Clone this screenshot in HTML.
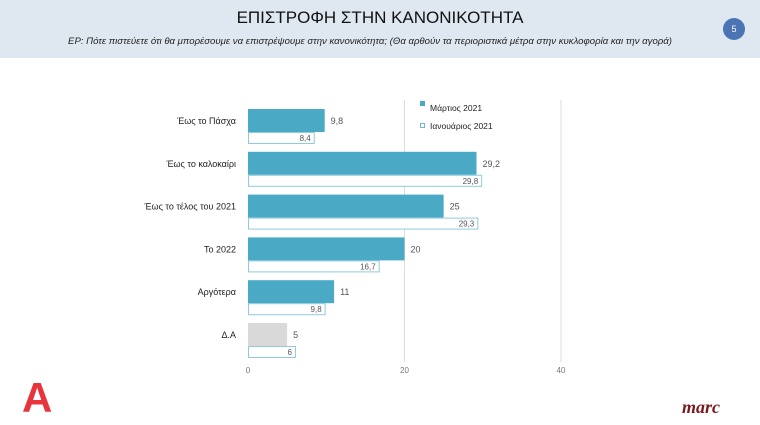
<!DOCTYPE html>
<html><head><meta charset="utf-8"><style>
body{margin:0;width:760px;height:425px;background:#fff;overflow:hidden;font-family:"Liberation Sans","DejaVu Sans",sans-serif;position:relative}
#hdr{position:absolute;left:0;top:0;width:760px;height:58px;background:#dfe7f1}
#title{position:absolute;top:8px;width:760px;text-align:center;font-size:17px;color:#111}
#sub{position:absolute;top:36px;width:760px;left:-10px;text-align:center;font-size:9.6px;font-style:italic;color:#222}
#badge{position:absolute;left:723px;top:18px;width:22px;height:22px;border-radius:50%;background:#4a74b4;color:#fff;font-size:9px;text-align:center;line-height:22px}
</style></head><body>
<div id="hdr">
<div id="title">ΕΠΙΣΤΡΟΦΗ ΣΤΗΝ ΚΑΝΟΝΙΚΟΤΗΤΑ</div>
<div id="sub">ΕΡ:  Πότε πιστεύετε ότι θα μπορέσουμε να επιστρέψουμε στην κανονικότητα; (Θα αρθούν τα περιοριστικά μέτρα στην κυκλοφορία και την αγορά)</div>
<div id="badge">5</div>
</div>
<svg id="chart" width="760" height="425" style="position:absolute;left:0;top:0"></svg>
<script>
const categories=["Έως το Πάσχα","Έως το καλοκαίρι","Έως το τέλος του 2021","Το 2022","Αργότερα","Δ.Α"];
const march=[9.8,29.2,25,20,11,5];
const jan=[8.4,29.8,29.3,16.7,9.8,6];
const ticks=[0,20,40];
const fmt=v=>String(v).replace('.',',');
const x0=248,scale=(561-248)/40;
const xs=v=>x0+v*scale;
const rowTop=i=>109+i*42.8;
const ns="http://www.w3.org/2000/svg";
const svg=document.getElementById('chart');
function mk(t,a){const e=document.createElementNS(ns,t);for(const k in a)e.setAttribute(k,a[k]);svg.appendChild(e);return e;}
ticks.forEach(t=>{
 if(t>0){const l=mk('line',{x1:xs(t),x2:xs(t),y1:100,y2:362,stroke:'#dcdcdc','stroke-width':1});
 
 }
 const tx=mk('text',{x:xs(t),y:373,'font-size':8,fill:'#777','text-anchor':'middle'});tx.textContent=t;
 
 
});
categories.forEach((c,i)=>{
 const y=rowTop(i);
 const lab=mk('text',{x:236,y:y+15,'font-size':9,fill:'#222','text-anchor':'end'});lab.textContent=c;
 
 
 const b=mk('rect',{x:x0,y:y,width:xs(march[i])-x0,height:23,fill:i==5?'#d9d9d9':'#4aaac5'});
 
 
 const v=mk('text',{x:xs(march[i])+6,y:y+15,'font-size':9,fill:'#555'});v.textContent=fmt(march[i]);
 
 
 const b2=mk('rect',{x:x0+0.5,y:y+23.5,width:xs(jan[i])-x0,height:11,fill:'#fff',stroke:'#8fcbdc','stroke-width':1});
 
 
 const v2=mk('text',{x:xs(jan[i])-3,y:y+32,'font-size':8,fill:'#555','text-anchor':'end'});v2.textContent=fmt(jan[i]);
 
 
});
const l1=mk('rect',{x:420,y:101,width:5,height:5,fill:'#4aaac5'});


const t1=mk('text',{x:430,y:111,'font-size':8.5,fill:'#222'});t1.textContent='Μάρτιος 2021';


const l2=mk('rect',{x:420.5,y:123.5,width:4,height:4,fill:'#fff',stroke:'#4aaac5','stroke-width':0.8});


const t2=mk('text',{x:430,y:129,'font-size':8.5,fill:'#222'});t2.textContent='Ιανουάριος 2021';


const logo=mk('text',{x:22,y:412,'font-size':42,'font-weight':'bold',fill:'#e8343c','font-family':'Liberation Sans,sans-serif'});logo.textContent='A';


const marc=mk('text',{x:682,y:413,'font-size':18,'font-weight':'bold','font-style':'italic',fill:'#7a1a1e','font-family':'Liberation Serif,serif'});marc.textContent='marc';


</script>
</body></html>
